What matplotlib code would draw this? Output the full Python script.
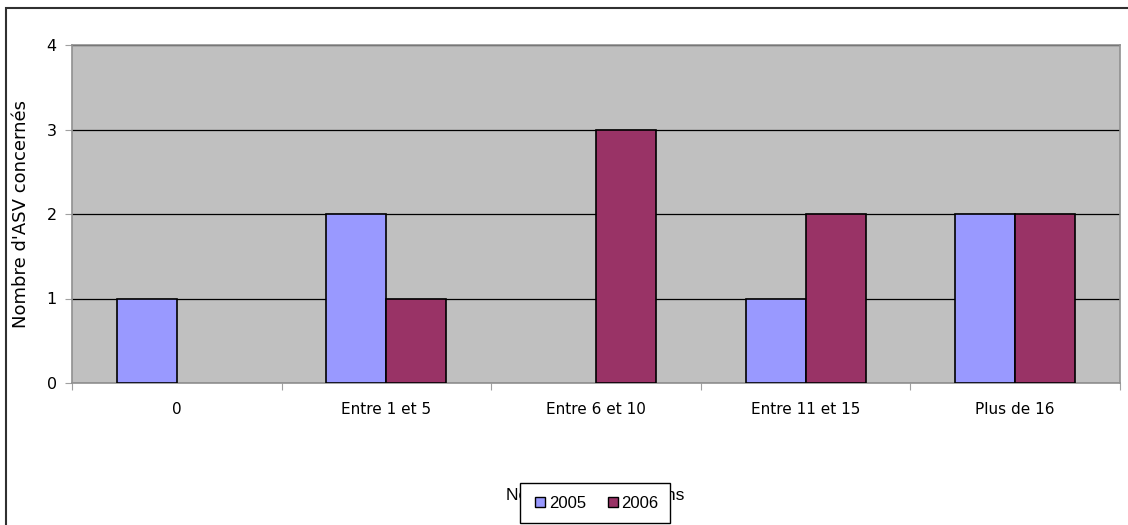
import numpy as np
import matplotlib.pyplot as plt
from matplotlib.patches import Rectangle

categories = ["0", "Entre 1 et 5", "Entre 6 et 10", "Entre 11 et 15", "Plus de 16"]
values_2005 = [1, 2, 0, 1, 2]
values_2006 = [0, 1, 3, 2, 2]
series_labels = ["2005", "2006"]
colors = ["#9999FF", "#993366"]

fig = plt.figure(figsize=(11.28, 5.25), dpi=100)
ax = fig.add_axes([72 / 1128, 1 - 383 / 525, (1120 - 72) / 1128, (383 - 45) / 525])
ax.set_facecolor("#C0C0C0")

x = np.arange(len(categories))
w = 0.286
handles = []
for i, (vals, lab, col) in enumerate(zip([values_2005, values_2006], series_labels, colors)):
    xs = x + (i - 0.5) * w
    keep = [j for j, v in enumerate(vals) if v > 0]
    ax.bar(xs[keep], [vals[j] for j in keep], width=w, color=col,
           edgecolor="black", linewidth=1.2, zorder=3)
    handles.append(plt.Line2D([], [], marker="s", linestyle="none", markersize=7,
                              markerfacecolor=col, markeredgecolor="black",
                              markeredgewidth=1.0, label=lab))

ax.set_xlim(-0.5, len(categories) - 0.5)
ax.set_ylim(0, 4)
ax.set_yticks([0, 1, 2, 3, 4])
ax.set_xticks(np.arange(len(categories) + 1) - 0.5)
ax.set_xticklabels([])
ax.set_xticks(x, minor=True)
ax.set_xticklabels(categories, minor=True, fontsize=11)
ax.tick_params(axis="x", which="minor", length=0, pad=14)
ax.tick_params(axis="x", which="major", length=5, color="#A0A0A0")
ax.tick_params(axis="y", length=5, color="#A0A0A0", labelsize=11.5, pad=6)
ax.yaxis.grid(True, color="black", linewidth=0.9, zorder=1)
ax.set_axisbelow(True)
for s in ax.spines.values():
    s.set_color("#909090")
    s.set_linewidth(1.2)

ax.set_ylabel("Nombre d'ASV concernés", fontsize=13, labelpad=12)
fig.text(595 / 1128, 1 - 496 / 525, "Nombre d'interventions", ha="center", va="center",
         fontsize=12.5, family="Liberation Sans")

leg = fig.legend(handles=handles, loc="center", bbox_to_anchor=(595 / 1128, 1 - 503 / 525),
                 ncol=2, frameon=True, fancybox=False, handletextpad=0.0,
                 columnspacing=1.1, borderpad=0.75, handlelength=1.0, borderaxespad=0.0,
                 prop={"family": "Liberation Sans", "size": 12})
leg.get_frame().set_edgecolor("black")
leg.get_frame().set_linewidth(1.0)
leg.get_frame().set_facecolor("white")
leg.get_frame().set_alpha(1)

fig.patches.append(Rectangle((6 / 1128, -0.01), 1.02, 1 - 8 / 525 + 0.01, transform=fig.transFigure,
                             fill=False, edgecolor="#303030", linewidth=1.5))

fig.savefig("out.png", dpi=100)
